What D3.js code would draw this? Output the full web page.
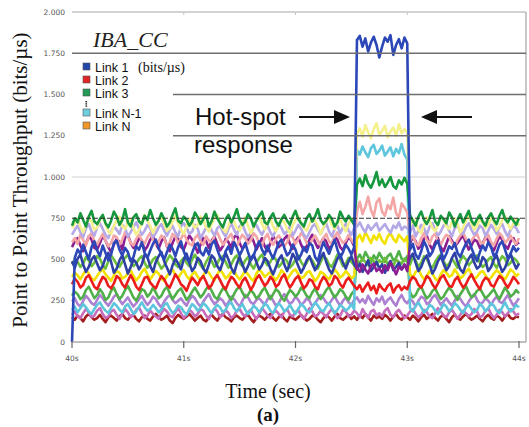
<!DOCTYPE html>
<html>
<head>
<meta charset="utf-8">
<script src="https://cdn.jsdelivr.net/npm/d3@7"></script>
<style>
    html, body { margin: 0; padding: 0; background: #fff; }
    svg { display: block; }
</style>
</head>
<body>
<svg id="chart" width="529" height="427"></svg>
<script>
'use strict';

// samples every 25 ms from 40 s to 44 s (161 per link)
const startSec = 40;
const sampleStep = 0.025;
const xTicks = [40, 41, 42, 43, 44];
const yTicks = [0, 250, 500, 750, 1000, 1250, 1500, 1750, 2000];
const yTickLabels = ['0', '250', '500', '750', '1.000', '1.250', '1.500', '1.750', '2.000'];
const legendLabels = ['Link 1', 'Link 2', 'Link 3', 'Link N-1', 'Link N'];
const legendColors = ['#2446a8', '#e02424', '#239a55', '#6fcde0', '#f0962a'];

const link1 = [
    0, 510, 560, 535, 590, 545, 500, 575, 610, 555,
    520, 585, 540, 495, 530, 600, 615, 560, 525, 570,
    545, 490, 515, 580, 560, 605, 540, 510, 555, 595,
    620, 570, 530, 500, 545, 590, 565, 520, 575, 610,
    550, 505, 485, 540, 585, 600, 545, 525, 570, 530,
    595, 615, 560, 515, 490, 550, 580, 535, 605, 570,
    525, 560, 600, 545, 495, 520, 575, 610, 560, 530,
    585, 540, 505, 555, 600, 620, 570, 525, 545, 590,
    560, 500, 530, 575, 545, 600, 585, 515, 490, 555,
    605, 570, 535, 580, 620, 560, 510, 545, 590, 565,
    530, 575, 1830, 1855, 1790, 1840, 1760, 1815, 1850, 1800,
    1725, 1790, 1845, 1820, 1860, 1740, 1800, 1835, 1780, 1845,
    1810, 560, 595, 530, 505, 550, 610, 575, 520, 545,
    590, 615, 555, 500, 535, 580, 565, 600, 540, 515,
    560, 595, 620, 570, 525, 490, 545, 585, 555, 605,
    575, 520, 540, 590, 610, 560, 505, 535, 580, 550,
    570
];
const darkGreen = [
    705, 750, 725, 780, 740, 700, 760, 795, 730, 715,
    745, 770, 720, 695, 735, 790, 760, 710, 740, 805,
    725, 700, 755, 775, 730, 715, 765, 740, 800, 750,
    710, 735, 780, 745, 700, 725, 770, 810, 735, 720,
    760, 740, 705, 730, 785, 755, 715, 745, 775, 700,
    735, 790, 750, 720, 695, 745, 770, 725, 760, 805,
    740, 710, 730, 775, 750, 700, 735, 765, 790, 725,
    715, 755, 780, 730, 705, 745, 770, 735, 710, 760,
    795, 745, 720, 700, 750, 775, 730, 760, 805, 740,
    715, 735, 770, 745, 700, 725, 790, 755, 730, 765,
    740, 710, 955, 990, 945, 1010, 960, 935, 975, 1030,
    950, 985, 940, 965, 1000, 945, 930, 980, 955, 995,
    960, 770, 735, 705, 760, 790, 740, 715, 750, 800,
    730, 710, 765, 745, 720, 785, 755, 700, 740, 775,
    725, 760, 795, 735, 710, 745, 770, 730, 705, 755,
    780, 740, 715, 765, 800, 745, 725, 760, 735, 710,
    750
];
const lightYellow = [
    690, 720, 745, 700, 665, 710, 755, 730, 680, 695,
    740, 765, 715, 670, 655, 705, 735, 760, 700, 685,
    725, 745, 690, 650, 680, 720, 770, 735, 705, 660,
    700, 740, 755, 715, 675, 690, 730, 765, 720, 680,
    655, 700, 745, 725, 690, 710, 760, 740, 695, 670,
    715, 750, 770, 720, 685, 665, 705, 745, 730, 690,
    675, 720, 755, 705, 660, 695, 735, 765, 715, 680,
    730, 750, 700, 670, 710, 745, 725, 685, 660, 705,
    740, 765, 720, 690, 675, 715, 750, 735, 700, 655,
    695, 730, 760, 710, 685, 720, 745, 700, 670, 715,
    750, 725, 1260, 1295, 1245, 1315, 1270, 1235, 1290, 1325,
    1255, 1280, 1310, 1240, 1275, 1300, 1250, 1320, 1265, 1290,
    1270, 700, 745, 725, 680, 660, 710, 755, 735, 690,
    670, 715, 760, 740, 700, 685, 725, 750, 715, 665,
    695, 735, 770, 720, 680, 705, 745, 725, 690, 710,
    755, 730, 675, 700, 740, 765, 715, 685, 720, 745,
    705
];
const lavender = [
    650, 680, 705, 665, 635, 690, 715, 670, 645, 695,
    720, 685, 650, 630, 670, 700, 680, 655, 710, 690,
    640, 665, 700, 725, 685, 650, 675, 710, 690, 635,
    660, 695, 715, 675, 645, 680, 705, 665, 640, 700,
    720, 690, 655, 670, 710, 685, 630, 660, 695, 715,
    675, 645, 690, 705, 665, 640, 685, 720, 680, 650,
    700, 715, 670, 635, 660, 695, 710, 675, 650, 685,
    705, 665, 640, 680, 720, 690, 655, 670, 700, 645,
    675, 710, 685, 650, 630, 665, 700, 715, 680, 655,
    690, 720, 670, 640, 685, 705, 660, 695, 715, 675,
    650, 690, 700, 725, 690, 665, 710, 680, 700, 720,
    675, 695, 715, 685, 660, 705, 690, 725, 680, 700,
    690, 665, 705, 640, 675, 710, 690, 650, 700, 720,
    680, 645, 670, 705, 715, 675, 640, 690, 710, 665,
    655, 695, 720, 680, 650, 670, 705, 690, 645, 675,
    710, 685, 655, 695, 715, 670, 640, 680, 705, 690,
    660
];
const pink = [
    605, 630, 595, 650, 620, 585, 640, 660, 610, 590,
    625, 655, 615, 580, 600, 645, 635, 590, 620, 665,
    640, 600, 585, 625, 650, 615, 595, 635, 660, 620,
    590, 610, 645, 630, 580, 605, 655, 640, 600, 625,
    660, 620, 595, 585, 630, 650, 610, 590, 640, 615,
    600, 645, 665, 625, 590, 610, 635, 655, 605, 580,
    620, 650, 630, 595, 615, 660, 640, 600, 585, 630,
    655, 610, 590, 625, 645, 620, 580, 605, 650, 635,
    595, 625, 660, 640, 600, 590, 620, 645, 615, 585,
    630, 655, 610, 595, 640, 665, 625, 600, 615, 650,
    620, 595, 790, 850, 775, 820, 880, 800, 760, 845,
    870, 790, 765, 830, 805, 875, 780, 755, 840, 815,
    785, 615, 645, 600, 585, 630, 660, 620, 595, 640,
    655, 610, 590, 625, 650, 635, 600, 580, 620, 645,
    665, 625, 600, 615, 640, 655, 610, 590, 630, 650,
    605, 585, 625, 660, 640, 600, 620, 645, 615, 595,
    630
];
const purple = [
    575, 610, 630, 585, 550, 595, 640, 620, 570, 560,
    600, 645, 615, 575, 545, 590, 625, 605, 560, 635,
    650, 600, 570, 590, 630, 615, 555, 580, 620, 645,
    595, 565, 610, 635, 580, 550, 600, 640, 625, 575,
    560, 605, 645, 620, 585, 540, 590, 630, 610, 570,
    615, 640, 595, 555, 580, 625, 605, 570, 635, 650,
    600, 565, 585, 620, 645, 610, 560, 595, 630, 580,
    550, 600, 640, 615, 575, 590, 625, 645, 595, 565,
    610, 635, 590, 555, 580, 620, 650, 605, 570, 595,
    630, 610, 565, 585, 640, 620, 575, 555, 600, 635,
    615, 580, 450, 425, 470, 440, 415, 460, 475, 430,
    445, 420, 465, 435, 480, 450, 410, 455, 440, 470,
    430, 600, 635, 610, 565, 585, 625, 645, 590, 560,
    605, 630, 575, 550, 595, 640, 615, 580, 600, 625,
    645, 600, 560, 585, 620, 610, 570, 595, 635, 615,
    575, 555, 600, 640, 620, 585, 565, 610, 630, 590,
    605
];
const navy = [
    490, 450, 505, 530, 470, 425, 455, 500, 520, 475,
    435, 460, 510, 540, 485, 420, 445, 495, 525, 470,
    415, 455, 500, 480, 440, 470, 530, 515, 460, 425,
    485, 520, 545, 490, 450, 410, 465, 505, 475, 440,
    500, 535, 480, 430, 455, 510, 490, 445, 420, 470,
    525, 505, 460, 435, 485, 540, 500, 450, 415, 475,
    515, 470, 425, 460, 505, 530, 485, 440, 465, 510,
    490, 445, 410, 455, 500, 525, 470, 430, 480, 535,
    505, 460, 420, 450, 495, 520, 475, 435, 465, 510,
    540, 485, 440, 415, 460, 505, 530, 480, 445, 490,
    520, 470, 440, 475, 425, 460, 495, 430, 455, 485,
    445, 470, 420, 460, 490, 435, 455, 480, 440, 465,
    450, 510, 535, 480, 430, 455, 500, 525, 470, 415,
    445, 490, 520, 475, 435, 460, 510, 540, 485, 440,
    420, 470, 505, 530, 480, 445, 460, 515, 495, 430,
    455, 500, 525, 470, 425, 450, 495, 535, 485, 445,
    475
];
const lightGreen = [
    470, 500, 485, 455, 475, 515, 495, 460, 480, 520,
    505, 465, 445, 490, 525, 500, 470, 455, 485, 510,
    530, 490, 460, 475, 505, 520, 480, 450, 470, 500,
    515, 475, 445, 465, 495, 525, 505, 470, 455, 490,
    510, 480, 460, 500, 530, 495, 465, 445, 485, 515,
    490, 455, 475, 510, 520, 485, 450, 470, 505, 525,
    480, 460, 495, 515, 470, 445, 480, 510, 530, 490,
    465, 485, 520, 500, 455, 475, 505, 490, 450, 470,
    500, 525, 485, 460, 480, 515, 495, 465, 445, 485,
    520, 505, 470, 455, 490, 530, 500, 460, 475, 510,
    485, 465, 500, 475, 505, 485, 465, 510, 490, 470,
    495, 480, 510, 470, 490, 460, 500, 485, 475, 505,
    490, 470, 515, 495, 455, 480, 520, 505, 465, 450,
    485, 515, 530, 490, 460, 475, 505, 480, 450, 495,
    520, 500, 465, 485, 510, 525, 480, 455, 470, 500,
    515, 475, 450, 490, 520, 505, 465, 480, 510, 495,
    470
];
const yellow = [
    395, 420, 405, 380, 410, 435, 415, 385, 375, 400,
    425, 440, 410, 390, 370, 405, 430, 420, 385, 395,
    415, 435, 400, 375, 395, 425, 445, 410, 380, 405,
    430, 415, 385, 370, 400, 420, 440, 405, 390, 415,
    435, 400, 380, 410, 425, 395, 375, 405, 430, 420,
    390, 375, 410, 440, 415, 385, 400, 425, 435, 400,
    380, 405, 430, 410, 385, 370, 415, 440, 420, 395,
    410, 425, 395, 375, 400, 435, 415, 380, 405, 430,
    440, 410, 385, 395, 420, 430, 400, 370, 390, 425,
    415, 395, 380, 410, 440, 420, 390, 405, 430, 410,
    385, 400, 625, 650, 610, 665, 635, 600, 645, 620,
    655, 615, 595, 640, 660, 625, 605, 650, 630, 610,
    640, 410, 390, 425, 440, 405, 380, 400, 430, 415,
    385, 370, 410, 435, 420, 395, 405, 440, 415, 385,
    400, 425, 445, 410, 380, 395, 420, 430, 405, 375,
    390, 415, 435, 420, 395, 380, 410, 440, 425, 400,
    415
];
const red = [
    350, 385, 365, 330, 345, 390, 405, 370, 335, 320,
    360, 395, 380, 340, 325, 355, 400, 385, 350, 330,
    370, 405, 375, 335, 315, 350, 390, 395, 360, 340,
    325, 365, 400, 380, 345, 330, 370, 410, 385, 350,
    335, 310, 355, 390, 370, 345, 380, 400, 365, 325,
    345, 385, 405, 375, 340, 320, 360, 395, 380, 350,
    330, 370, 390, 355, 315, 345, 385, 405, 370, 340,
    360, 395, 375, 335, 350, 390, 410, 365, 330, 355,
    385, 400, 360, 325, 345, 380, 370, 335, 320, 365,
    395, 375, 340, 355, 400, 385, 350, 330, 370, 390,
    365, 340, 320, 345, 305, 335, 360, 315, 340, 295,
    350, 325, 310, 340, 355, 300, 330, 345, 315, 335,
    320, 370, 395, 380, 345, 330, 360, 400, 385, 350,
    325, 355, 390, 405, 370, 340, 335, 375, 395, 360,
    330, 350, 385, 410, 375, 345, 320, 365, 390, 380,
    345, 335, 370, 400, 385, 355, 330, 360, 395, 375,
    350
];
const midGreen = [
    280, 305, 290, 260, 275, 315, 335, 300, 265, 285,
    320, 295, 255, 270, 310, 330, 290, 260, 280, 315,
    340, 305, 270, 250, 285, 320, 310, 275, 295, 330,
    300, 265, 280, 315, 335, 295, 260, 285, 310, 325,
    290, 255, 275, 305, 330, 300, 270, 290, 320, 340,
    310, 275, 260, 295, 325, 315, 280, 255, 290, 320,
    335, 300, 270, 285, 315, 295, 265, 280, 310, 330,
    295, 260, 290, 320, 305, 270, 250, 285, 315, 300,
    275, 295, 330, 310, 280, 265, 300, 325, 290, 260,
    285, 315, 335, 300, 270, 290, 320, 305, 275, 255,
    290, 310, 505, 530, 495, 545, 515, 480, 525, 500,
    540, 510, 485, 520, 535, 495, 510, 550, 505, 490,
    520, 300, 270, 285, 320, 335, 295, 265, 280, 310,
    325, 290, 260, 275, 305, 330, 310, 280, 255, 290,
    315, 340, 300, 270, 285, 310, 325, 295, 265, 280,
    300, 320, 285, 260, 295, 330, 305, 275, 290, 315,
    295
];
const violet = [
    245, 265, 230, 215, 250, 280, 260, 235, 225, 255,
    285, 265, 240, 220, 245, 275, 290, 255, 230, 250,
    270, 240, 215, 235, 260, 280, 250, 225, 245, 275,
    260, 230, 210, 245, 270, 285, 255, 235, 250, 265,
    240, 220, 255, 280, 265, 235, 215, 245, 270, 290,
    255, 230, 245, 265, 250, 220, 240, 275, 260, 235,
    215, 250, 285, 270, 240, 230, 255, 265, 245, 225,
    260, 280, 250, 220, 235, 270, 290, 255, 230, 245,
    275, 255, 225, 240, 265, 250, 215, 235, 260, 285,
    265, 240, 230, 255, 280, 245, 220, 250, 270, 240,
    225, 255, 270, 240, 260, 235, 280, 250, 225, 265,
    245, 275, 230, 255, 270, 240, 220, 260, 285, 250,
    235, 260, 245, 215, 250, 275, 265, 230, 240, 270,
    285, 255, 225, 245, 265, 240, 220, 250, 280, 260,
    235, 215, 245, 270, 290, 255, 230, 240, 265, 250,
    225, 255, 275, 245, 235, 260, 285, 250, 220, 240,
    265
];
const cyan = [
    195, 215, 180, 205, 230, 210, 185, 170, 200, 225,
    240, 210, 190, 175, 205, 235, 220, 195, 180, 215,
    230, 200, 170, 185, 215, 240, 210, 190, 200, 225,
    205, 180, 195, 225, 235, 200, 175, 190, 220, 210,
    185, 165, 200, 230, 215, 190, 205, 235, 220, 195,
    175, 205, 225, 210, 180, 195, 230, 240, 205, 185,
    210, 230, 195, 170, 190, 220, 205, 180, 200, 235,
    220, 190, 175, 210, 235, 215, 185, 200, 225, 195,
    170, 200, 230, 215, 190, 180, 210, 240, 220, 195,
    185, 215, 235, 205, 175, 195, 225, 210, 190, 205,
    230, 200, 1165, 1135, 1185, 1150, 1120, 1175, 1195, 1140,
    1160, 1190, 1130, 1155, 1180, 1125, 1170, 1145, 1200, 1135,
    1105, 205, 185, 220, 240, 210, 180, 195, 225, 215,
    190, 170, 200, 230, 215, 185, 205, 235, 220, 195,
    175, 210, 225, 200, 180, 195, 230, 215, 185, 205,
    235, 220, 190, 175, 210, 240, 205, 185, 200, 225,
    210
];
const magenta = [
    165, 185, 155, 145, 175, 200, 180, 150, 160, 190,
    205, 170, 145, 155, 185, 195, 165, 140, 170, 200,
    180, 150, 165, 195, 210, 175, 145, 160, 190, 170,
    155, 140, 175, 200, 185, 160, 150, 180, 205, 175,
    145, 165, 195, 180, 155, 170, 200, 190, 160, 140,
    175, 205, 185, 150, 165, 195, 175, 145, 160, 190,
    200, 170, 155, 180, 195, 165, 140, 170, 205, 185,
    160, 145, 175, 190, 170, 150, 185, 200, 165, 155,
    180, 195, 160, 140, 170, 205, 185, 155, 165, 190,
    170, 150, 180, 200, 175, 145, 160, 195, 185, 155,
    165, 190, 175, 150, 200, 170, 145, 185, 195, 160,
    175, 155, 190, 205, 165, 150, 180, 195, 170, 145,
    160, 185, 200, 170, 150, 165, 195, 180, 155, 145,
    175, 205, 185, 160, 150, 180, 195, 170, 140, 165,
    190, 175, 155, 170, 200, 185, 150, 160, 190, 205,
    170, 145, 165, 195, 180, 155, 175, 200, 185, 160,
    175
];
const darkRed = [
    150, 135, 160, 145, 125, 155, 170, 150, 135, 145,
    165, 140, 120, 150, 160, 145, 130, 155, 170, 145,
    135, 155, 165, 140, 125, 150, 160, 140, 130, 155,
    170, 150, 135, 145, 160, 130, 115, 145, 165, 150,
    140, 155, 170, 150, 130, 145, 160, 135, 125, 150,
    165, 145, 130, 155, 170, 150, 140, 125, 150, 160,
    145, 135, 155, 165, 140, 120, 145, 160, 150, 135,
    155, 170, 145, 130, 150, 165, 140, 125, 155, 145,
    135, 150, 165, 145, 130, 140, 160, 155, 135, 120,
    145, 160, 150, 130, 155, 170, 145, 135, 150, 165,
    140, 155, 135, 160, 145, 170, 150, 130, 160, 145,
    155, 140, 165, 150, 130, 155, 170, 145, 135, 160,
    150, 135, 160, 145, 125, 150, 165, 140, 155, 170,
    145, 130, 155, 160, 140, 120, 150, 165, 145, 135,
    155, 170, 150, 135, 145, 160, 140, 125, 150, 165,
    145, 135, 160, 150, 130, 155, 170, 145, 140, 155,
    150
];

// bottom to top drawing order
const seriesList = [
    { values: darkRed, color: '#a41c1c' },
    { values: magenta, color: '#c86cbc' },
    { values: violet, color: '#ad80d2' },
    { values: midGreen, color: '#4fb04a' },
    { values: cyan, color: '#5ec6dc' },
    { values: yellow, color: '#f2e200' },
    { values: red, color: '#ec1c1c' },
    { values: lightGreen, color: '#6cbf3c' },
    { values: navy, color: '#2e40a4' },
    { values: purple, color: '#8c1e92' },
    { values: pink, color: '#f4a6a6' },
    { values: lavender, color: '#b4a8e6' },
    { values: lightYellow, color: '#f4f08c' },
    { values: darkGreen, color: '#15983e' },
    { values: link1, color: '#2b47b8' }
];

const svg = d3.select('#chart');
const x = d3.scaleLinear().domain([40, 44]).range([72, 519]);
const y = d3.scaleLinear().domain([0, 2000]).range([342, 12]);
const frameRight = 526;

// frame and light grid
svg.append('line')
    .attr('x1', x(40)).attr('x2', frameRight)
    .attr('y1', y(2000)).attr('y2', y(2000))
    .attr('stroke', '#c4c4c4').attr('stroke-width', 1.5);
svg.append('line')
    .attr('x1', frameRight).attr('x2', frameRight)
    .attr('y1', y(2000)).attr('y2', y(0))
    .attr('stroke', '#b4b4b4').attr('stroke-width', 1.5);
svg.append('line')
    .attr('x1', x(40)).attr('x2', frameRight)
    .attr('y1', y(1000)).attr('y2', y(1000))
    .attr('stroke', '#d0d0d0').attr('stroke-width', 1.2);
svg.selectAll('.topTick')
    .data(xTicks.slice(1, 4))
    .enter().append('line')
    .attr('x1', d => x(d)).attr('x2', d => x(d))
    .attr('y1', y(2000)).attr('y2', y(2000) + 3)
    .attr('stroke', '#c4c4c4');

// y axis labels
svg.selectAll('.yLabel')
    .data(yTicks)
    .enter().append('text')
    .attr('x', 65)
    .attr('y', d => y(d))
    .attr('dy', '0.35em')
    .attr('text-anchor', 'end')
    .attr('font-family', 'DejaVu Sans, Verdana, sans-serif')
    .attr('font-size', '7.5px')
    .attr('fill', '#555')
    .text((d, i) => yTickLabels[i]);

// data lines
const line = d3.line()
    .x((d, i) => x(startSec + i * sampleStep))
    .y(d => y(d));

svg.append('g')
    .selectAll('path')
    .data(seriesList)
    .enter().append('path')
    .attr('d', d => line(d.values))
    .attr('fill', 'none')
    .attr('stroke', d => d.color)
    .attr('stroke-width', 2.6)
    .attr('stroke-linejoin', 'round');

// annotation lines drawn over the data
svg.append('line')
    .attr('x1', x(40)).attr('x2', frameRight)
    .attr('y1', y(1750)).attr('y2', y(1750))
    .attr('stroke', '#6e6e6e').attr('stroke-width', 1.6);
svg.selectAll('.midLine')
    .data([1500, 1250])
    .enter().append('line')
    .attr('x1', 173).attr('x2', frameRight)
    .attr('y1', d => y(d)).attr('y2', d => y(d))
    .attr('stroke', '#6e6e6e').attr('stroke-width', 1.6);
svg.append('line')
    .attr('x1', x(40)).attr('x2', frameRight)
    .attr('y1', y(750)).attr('y2', y(750))
    .attr('stroke', '#333').attr('stroke-width', 1)
    .attr('stroke-dasharray', '5,2');

// x axis
svg.append('line')
    .attr('x1', x(40)).attr('x2', frameRight)
    .attr('y1', y(0)).attr('y2', y(0))
    .attr('stroke', '#aaa').attr('stroke-width', 1.5);
svg.selectAll('.xTick')
    .data(xTicks)
    .enter().append('line')
    .attr('x1', d => x(d)).attr('x2', d => x(d))
    .attr('y1', y(0) - 1).attr('y2', y(0) + 6)
    .attr('stroke', '#666').attr('stroke-width', 1.2);
svg.selectAll('.xLabel')
    .data(xTicks)
    .enter().append('text')
    .attr('x', d => x(d))
    .attr('y', 361)
    .attr('text-anchor', 'middle')
    .attr('font-family', 'DejaVu Sans, Verdana, sans-serif')
    .attr('font-size', '7.5px')
    .attr('fill', '#555')
    .text(d => d + 's');

// titles
svg.append('text')
    .attr('transform', 'translate(27,180) rotate(-90)')
    .attr('text-anchor', 'middle')
    .attr('font-family', 'Liberation Serif, Times New Roman, serif')
    .attr('font-size', '21px')
    .attr('fill', '#111')
    .text('Point to Point Throughput (bits/µs)');
svg.append('text')
    .attr('x', 268).attr('y', 398)
    .attr('text-anchor', 'middle')
    .attr('font-family', 'Liberation Serif, Times New Roman, serif')
    .attr('font-size', '20px')
    .attr('fill', '#111')
    .text('Time (sec)');
svg.append('text')
    .attr('x', 268).attr('y', 421)
    .attr('text-anchor', 'middle')
    .attr('font-family', 'Liberation Serif, Times New Roman, serif')
    .attr('font-weight', 'bold')
    .attr('font-size', '19px')
    .attr('fill', '#111')
    .text('(a)');

// legend
svg.append('text')
    .attr('x', 93).attr('y', 47)
    .attr('font-family', 'Liberation Serif, Times New Roman, serif')
    .attr('font-style', 'italic')
    .attr('font-size', '22px')
    .attr('fill', '#222')
    .text('IBA_CC');

const legendY = [67, 80, 93, 113, 126];
const legend = svg.append('g');
legend.selectAll('rect')
    .data(legendLabels)
    .enter().append('rect')
    .attr('x', 83)
    .attr('y', (d, i) => legendY[i] - 4)
    .attr('width', 7).attr('height', 7)
    .attr('fill', (d, i) => legendColors[i])
    .attr('stroke', '#555').attr('stroke-width', 0.6);
legend.selectAll('text')
    .data(legendLabels)
    .enter().append('text')
    .attr('x', 95)
    .attr('y', (d, i) => legendY[i] + 5)
    .attr('font-family', 'Liberation Sans, Arial, sans-serif')
    .attr('font-size', '12.5px')
    .attr('fill', '#111')
    .text(d => d);
legend.append('text')
    .attr('x', 138).attr('y', 72)
    .attr('font-family', 'Liberation Serif, Times New Roman, serif')
    .attr('font-size', '14px')
    .attr('fill', '#111')
    .text('(bits/µs)');
legend.selectAll('.dot')
    .data([0, 1, 2])
    .enter().append('rect')
    .attr('x', 85.5)
    .attr('y', d => 101 + d * 2.2)
    .attr('width', 1.6).attr('height', 1.4)
    .attr('fill', '#222');

// hot-spot annotation
svg.append('text')
    .attr('x', 195).attr('y', 125)
    .attr('font-family', 'Liberation Sans, Arial, sans-serif')
    .attr('font-size', '24px')
    .attr('fill', '#111')
    .text('Hot-spot');
svg.append('text')
    .attr('x', 194).attr('y', 153)
    .attr('font-family', 'Liberation Sans, Arial, sans-serif')
    .attr('font-size', '24px')
    .attr('fill', '#111')
    .text('response');

function arrow(x0, x1, yy) {
    const dir = Math.sign(x1 - x0);
    svg.append('line')
        .attr('x1', x0).attr('x2', x1 - dir * 14)
        .attr('y1', yy).attr('y2', yy)
        .attr('stroke', '#111').attr('stroke-width', 2.2);
    svg.append('path')
        .attr('d', d3.line()([[x1, yy], [x1 - dir * 16, yy - 7], [x1 - dir * 16, yy + 7]]) + 'Z')
        .attr('fill', '#111');
}
arrow(299, 350, 117);
arrow(472, 421, 117);
</script>
</body>
</html>
